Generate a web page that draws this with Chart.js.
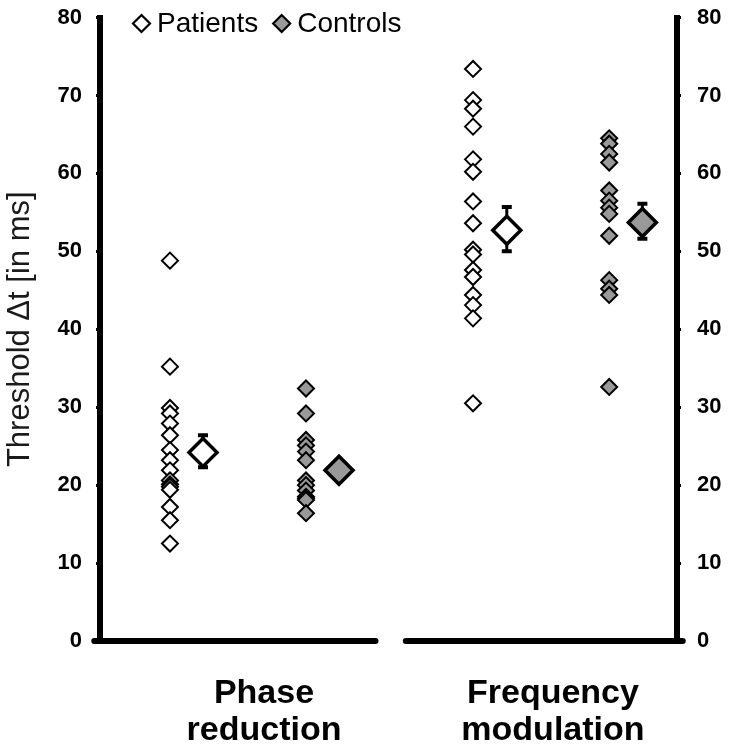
<!DOCTYPE html>
<html>
<head>
<meta charset="utf-8">
<script src="https://cdn.jsdelivr.net/npm/chart.js@4.4.1/dist/chart.umd.min.js"></script>
<style>
  html, body { margin: 0; padding: 0; background: #fff; }
  #wrap { width: 730px; height: 748px; }
</style>
</head>
<body>
<div id="wrap"><canvas id="chart" width="730" height="748"></canvas></div>
<script>
// --- data (threshold Δt in ms) ---
const categories = ["Phase reduction", "Frequency modulation"];
const seriesNames = ["Patients", "Controls"];
const yTicks = [0, 10, 20, 30, 40, 50, 60, 70, 80];

const patientsPhase = [48.8, 35.2, 29.9, 29.2, 27.9, 26.4, 24.5, 23.2, 21.9, 20.6, 20.1, 19.8, 19.4, 17.2, 15.5, 12.5];
const patientsFreq = [73.4, 69.4, 68.3, 66.0, 61.8, 60.2, 56.4, 53.6, 50.2, 49.6, 47.6, 46.7, 44.4, 43.1, 41.4, 30.5];
const controlsPhase = [32.4, 29.2, 25.8, 25.1, 24.3, 23.2, 20.6, 20.0, 19.3, 18.5, 18.3, 18.1, 16.4];
const controlsFreq = [64.5, 63.8, 62.5, 61.4, 57.8, 56.5, 55.6, 54.8, 52.0, 46.3, 45.2, 44.4, 32.6];

// group means with error bar ends [low, high], one per category
const patientsMean = [24.2, 52.7];
const patientsErr = [[22.3, 26.4], [50.0, 55.7]];
const controlsMean = [21.9, 53.7];
const controlsErr = [[20.8, 23.1], [51.6, 56.1]];

// --- layout (x in arbitrary units, 0..4) ---
const xPatients = [0.485, 2.586];
const xPatientsMean = [0.714, 2.82];
const xControls = [1.428, 3.53];
const xControlsMean = [1.657, 3.76];
const xLabels = [1.137, 3.14];
const baselineParts = [[-0.04, 1.91], [2.12, 4.04]];

const FONT = "'Liberation Sans', Arial, sans-serif";

function column(xs, groups) {
  const pts = [];
  groups.forEach((vals, i) => vals.forEach((v) => pts.push({ x: xs[i], y: v })));
  return pts;
}

function errorLine(xs, errs) {
  const pts = [];
  errs.forEach((e, i) => {
    pts.push({ x: xs[i], y: e[0] });
    pts.push({ x: xs[i], y: e[1] });
    pts.push({ x: xs[i], y: null });
  });
  return pts;
}

function diamond(ctx, cx, cy, r) {
  ctx.beginPath();
  ctx.moveTo(cx, cy - r);
  ctx.lineTo(cx + r, cy);
  ctx.lineTo(cx, cy + r);
  ctx.lineTo(cx - r, cy);
  ctx.closePath();
}

// the x axis in the figure is broken between the two groups
const brokenBaseline = {
  id: "brokenBaseline",
  afterDatasetsDraw(chart) {
    const { ctx, scales } = chart;
    const yPix = scales.y.getPixelForValue(0);
    ctx.save();
    ctx.strokeStyle = "#000";
    ctx.lineWidth = 6;
    ctx.lineCap = "round";
    baselineParts.forEach(([a, b]) => {
      ctx.beginPath();
      ctx.moveTo(scales.x.getPixelForValue(a), yPix);
      ctx.lineTo(scales.x.getPixelForValue(b), yPix);
      ctx.stroke();
    });
    ctx.restore();
  },
};

// one-row legend inside the plot, top left
const inlineLegend = {
  id: "inlineLegend",
  afterDraw(chart) {
    const { ctx, chartArea } = chart;
    const r = 8.5;
    const cy = chartArea.top + 6;
    let x = chartArea.left + 33;
    ctx.save();
    ctx.font = "28px " + FONT;
    ctx.textBaseline = "middle";
    chart.data.datasets.slice(0, 2).forEach((ds) => {
      diamond(ctx, x + r, cy, r);
      ctx.fillStyle = ds.backgroundColor;
      ctx.fill();
      ctx.lineWidth = 2.2;
      ctx.strokeStyle = "#000";
      ctx.stroke();
      x += 2 * r + 7;
      ctx.fillStyle = "#000";
      ctx.fillText(ds.label, x, cy + 1);
      x += ctx.measureText(ds.label).width + 15;
    });
    ctx.restore();
  },
};

const yAxisCommon = {
  type: "linear",
  min: 0,
  max: 80,
  afterBuildTicks: (scale) => {
    scale.ticks = yTicks.map((v) => ({ value: v }));
  },
  grid: {
    drawOnChartArea: false,
    drawTicks: true,
    tickLength: 4,
    tickWidth: 3,
    tickColor: "#000",
  },
  border: { display: true, color: "#000", width: 6 },
  ticks: {
    color: "#000",
    font: { family: FONT, size: 22, weight: "bold" },
  },
};

new Chart(document.getElementById("chart"), {
  type: "scatter",
  data: {
    datasets: [
      {
        label: seriesNames[0],
        data: column(xPatients, [patientsPhase, patientsFreq]),
        pointStyle: "rectRot",
        pointRadius: 8,
        pointHoverRadius: 8,
        backgroundColor: "#fff",
        borderColor: "#000",
        borderWidth: 2,
        order: 0,
      },
      {
        label: seriesNames[1],
        data: column(xControls, [controlsPhase, controlsFreq]),
        pointStyle: "rectRot",
        pointRadius: 8,
        pointHoverRadius: 8,
        backgroundColor: "#999",
        borderColor: "#000",
        borderWidth: 2,
        order: 1,
      },
      {
        label: "Patients mean",
        data: patientsMean.map((v, i) => ({ x: xPatientsMean[i], y: v })),
        pointStyle: "rectRot",
        pointRadius: 14,
        backgroundColor: "#fff",
        borderColor: "#000",
        borderWidth: 3.5,
        order: 2,
      },
      {
        label: "Controls mean",
        data: controlsMean.map((v, i) => ({ x: xControlsMean[i], y: v })),
        pointStyle: "rectRot",
        pointRadius: 14,
        backgroundColor: "#999",
        borderColor: "#000",
        borderWidth: 3.5,
        order: 3,
      },
      {
        type: "line",
        label: "error",
        data: errorLine(xPatientsMean, patientsErr).concat(errorLine(xControlsMean, controlsErr)),
        borderColor: "#000",
        borderWidth: 3,
        pointStyle: "line",
        pointRadius: 5,
        pointBorderWidth: 4,
        spanGaps: false,
        order: 4,
      },
    ],
  },
  options: {
    responsive: false,
    animation: false,
    layout: { padding: { top: 17, left: 0, right: 0, bottom: 0 } },
    plugins: {
      tooltip: { enabled: false },
      legend: { display: false },
    },
    scales: {
      x: {
        type: "linear",
        min: 0,
        max: 4,
        afterBuildTicks: (scale) => {
          scale.ticks = xLabels.map((v) => ({ value: v }));
        },
        afterFit: (scale) => {
          scale.height = 107;
          scale.paddingLeft = 0;
          scale.paddingRight = 0;
        },
        grid: { display: false },
        border: { display: false },
        ticks: {
          autoSkip: false,
          maxRotation: 0,
          padding: 26,
          color: "#000",
          font: { family: FONT, size: 34, weight: "bold", lineHeight: 1.1 },
          callback: (v, i) => categories[i].split(" "),
        },
      },
      y: {
        ...yAxisCommon,
        position: "left",
        ticks: { ...yAxisCommon.ticks, padding: 14 },
        afterFit: (scale) => {
          scale.width = 100;
          scale.paddingTop = 0;
          scale.paddingBottom = 0;
        },
        title: {
          display: true,
          text: "Threshold \u0394t [in ms]",
          color: "#1a1a1a",
          padding: { top: 2, bottom: 0 },
          font: { family: FONT, size: 31 },
        },
      },
      y2: {
        ...yAxisCommon,
        display: true,
        position: "right",
        ticks: { ...yAxisCommon.ticks, padding: 16 },
        afterFit: (scale) => {
          scale.width = 53;
          scale.paddingTop = 0;
          scale.paddingBottom = 0;
        },
      },
    },
  },
  plugins: [brokenBaseline, inlineLegend],
});
</script>
</body>
</html>
